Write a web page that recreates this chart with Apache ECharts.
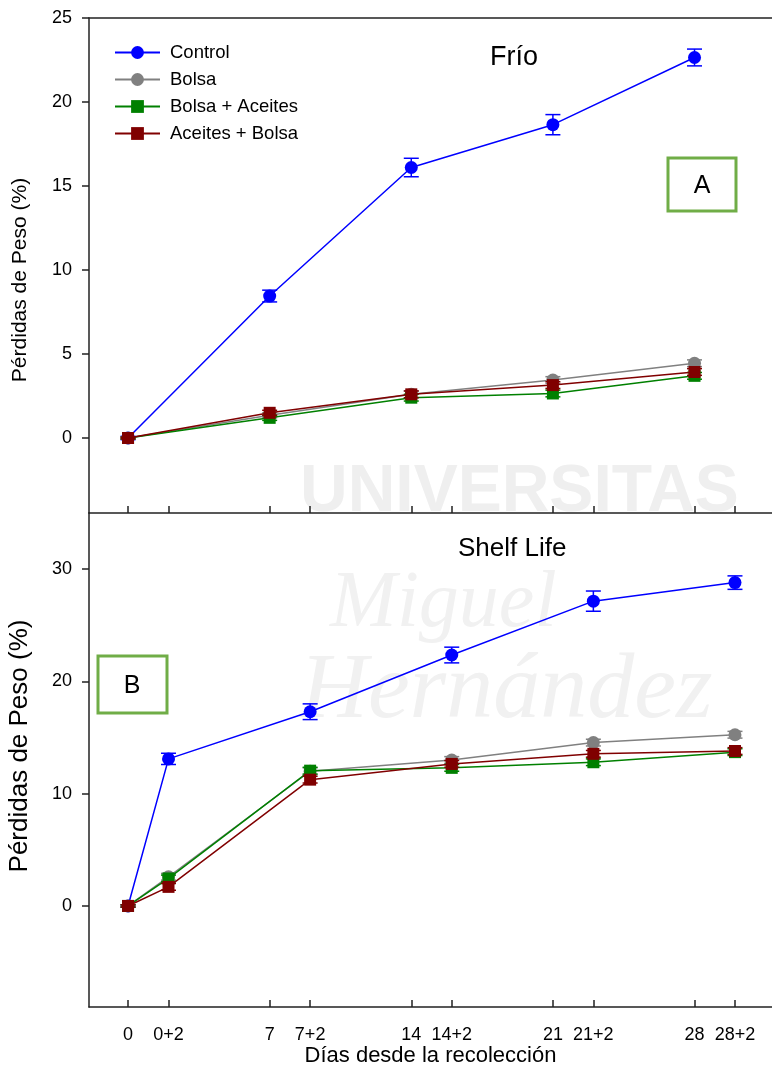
<!DOCTYPE html>
<html>
<head>
<meta charset="utf-8">
<script src="https://cdn.jsdelivr.net/npm/echarts@6/dist/echarts.min.js"></script>
<style>
  html, body { margin: 0; padding: 0; background: #fff; }
  #chart { width: 772px; height: 1068px; }
</style>
</head>
<body>
<div id="chart"></div>
<script>
// Días de muestreo (cámara frigorífica y vida útil a temperatura ambiente)
const tickDays   = [0, 2, 7, 9, 14, 16, 21, 23, 28, 30];
const tickLabels = ['0', '0+2', '7', '7+2', '14', '14+2', '21', '21+2', '28', '28+2'];

// Panel A: frío
const friaDays = [0, 7, 14, 21, 28];
const friaControl        = [0, 8.45, 16.1, 18.65, 22.65];
const friaControlErr     = [0.1, 0.35, 0.55, 0.6, 0.5];
const friaBolsa          = [0, 1.35, 2.6, 3.45, 4.45];
const friaBolsaErr       = [0.05, 0.15, 0.2, 0.2, 0.2];
const friaBolsaAceites   = [0, 1.2, 2.4, 2.65, 3.7];
const friaBolsaAceitesErr= [0.05, 0.15, 0.2, 0.2, 0.2];
const friaAceitesBolsa   = [0, 1.5, 2.6, 3.15, 3.93];
const friaAceitesBolsaErr= [0.05, 0.15, 0.2, 0.2, 0.2];

// Panel B: vida útil (shelf life)
const shelfDays = [0, 2, 9, 16, 23, 30];
const shelfControl        = [0, 13.1, 17.3, 22.35, 27.15, 28.8];
const shelfControlErr     = [0.1, 0.5, 0.7, 0.7, 0.9, 0.6];
const shelfBolsa          = [0, 2.6, 12.0, 13.0, 14.55, 15.25];
const shelfBolsaErr       = [0.1, 0.3, 0.3, 0.3, 0.3, 0.3];
const shelfBolsaAceites   = [0, 2.45, 12.05, 12.3, 12.8, 13.7];
const shelfBolsaAceitesErr= [0.1, 0.3, 0.3, 0.3, 0.3, 0.3];
const shelfAceitesBolsa   = [0, 1.7, 11.25, 12.65, 13.55, 13.8];
const shelfAceitesBolsaErr= [0.1, 0.3, 0.3, 0.3, 0.3, 0.3];

const friaTicks  = [0, 5, 10, 15, 20, 25];
const shelfTicks = [0, 10, 20, 30];

const names  = ['Control', 'Bolsa', 'Bolsa + Aceites', 'Aceites + Bolsa'];
const colors = ['#0000ff', '#808080', '#008000', '#800000'];
const symbols = ['circle', 'circle', 'rect', 'rect'];
const sizes   = [13, 13, 12, 12];

const FONT = 'Liberation Sans, Arial, sans-serif';
const AXIS_COLOR = '#222';

function lineSeries(i, days, vals, xIdx, yIdx) {
  return {
    type: 'line', name: names[i], xAxisIndex: xIdx, yAxisIndex: yIdx,
    data: days.map((d, k) => [d, vals[k]]),
    symbol: symbols[i], symbolSize: sizes[i],
    itemStyle: { color: colors[i] },
    lineStyle: { color: colors[i], width: 1.5 },
    z: 3 + i, animation: false, silent: true
  };
}

function errSeries(i, days, vals, errs, xIdx, yIdx) {
  const c = colors[i];
  return {
    type: 'custom', name: names[i], xAxisIndex: xIdx, yAxisIndex: yIdx,
    data: days.map((d, k) => [d, vals[k] - errs[k], vals[k] + errs[k]]),
    encode: { x: 0, y: [1, 2] },
    renderItem: (params, api) => {
      const lo = api.coord([api.value(0), api.value(1)]);
      const hi = api.coord([api.value(0), api.value(2)]);
      const w = 7.5;
      const st = { stroke: c, lineWidth: 1.5 };
      return { type: 'group', children: [
        { type: 'line', shape: { x1: lo[0], y1: lo[1], x2: hi[0], y2: hi[1] }, style: st },
        { type: 'line', shape: { x1: lo[0] - w, y1: lo[1], x2: lo[0] + w, y2: lo[1] }, style: st },
        { type: 'line', shape: { x1: hi[0] - w, y1: hi[1], x2: hi[0] + w, y2: hi[1] }, style: st }
      ]};
    },
    z: 3 + i, animation: false, silent: true
  };
}

const friaSets  = [[friaControl, friaControlErr], [friaBolsa, friaBolsaErr],
                   [friaBolsaAceites, friaBolsaAceitesErr], [friaAceitesBolsa, friaAceitesBolsaErr]];
const shelfSets = [[shelfControl, shelfControlErr], [shelfBolsa, shelfBolsaErr],
                   [shelfBolsaAceites, shelfBolsaAceitesErr], [shelfAceitesBolsa, shelfAceitesBolsaErr]];

const series = [];
friaSets.forEach((s, i) => series.push(lineSeries(i, friaDays, s[0], 0, 0)));
shelfSets.forEach((s, i) => series.push(lineSeries(i, shelfDays, s[0], 2, 1)));
friaSets.forEach((s, i) => series.push(errSeries(i, friaDays, s[0], s[1], 0, 0)));
shelfSets.forEach((s, i) => series.push(errSeries(i, shelfDays, s[0], s[1], 2, 1)));

const X_MIN = -1.93, X_MAX = 31.83;

const baseX = {
  type: 'value', min: X_MIN, max: X_MAX,
  axisLine: { show: true, onZero: false, lineStyle: { color: AXIS_COLOR, width: 1.5 } },
  axisTick: { show: true, inside: true, length: 7, customValues: tickDays,
              lineStyle: { color: AXIS_COLOR, width: 1.5 } },
  splitLine: { show: false }
};

const baseY = {
  type: 'value',
  axisLine: { show: true, onZero: false, lineStyle: { color: AXIS_COLOR, width: 1.5 } },
  axisTick: { show: true, inside: false, length: 7, lineStyle: { color: AXIS_COLOR, width: 1.5 } },
  splitLine: { show: false },
  axisLabel: { color: '#000', fontFamily: FONT, fontSize: 18, margin: 17 }
};

const option = {
  backgroundColor: '#fff',
  animation: false,
  grid: [
    { left: 89, top: 18, right: 0, height: 495 },
    { left: 89, top: 513, right: 0, height: 494 }
  ],
  xAxis: [
    Object.assign({}, baseX, { gridIndex: 0, position: 'bottom', axisLabel: { show: false } }),
    Object.assign({}, baseX, { gridIndex: 0, position: 'top', axisTick: { show: false }, axisLabel: { show: false } }),
    Object.assign({}, baseX, {
      gridIndex: 1, position: 'bottom',
      axisLabel: {
        show: true, customValues: tickDays, color: '#000', fontFamily: FONT, fontSize: 18, margin: 19,
        formatter: v => tickLabels[tickDays.indexOf(v)]
      },
      name: 'Días desde la recolección', nameLocation: 'middle', nameGap: 37,
      nameTextStyle: { color: '#000', fontFamily: FONT, fontSize: 22 }
    })
  ],
  yAxis: [
    Object.assign({}, baseY, {
      gridIndex: 0, min: -4.464, max: 25,
      axisTick: Object.assign({}, baseY.axisTick, { customValues: friaTicks }),
      axisLabel: Object.assign({}, baseY.axisLabel, { customValues: friaTicks })
    }),
    Object.assign({}, baseY, {
      gridIndex: 1, min: -9, max: 35,
      axisTick: Object.assign({}, baseY.axisTick, { customValues: shelfTicks }),
      axisLabel: Object.assign({}, baseY.axisLabel, { customValues: shelfTicks })
    })
  ],
  legend: {
    data: names, orient: 'vertical', left: 114, top: 43, padding: 0,
    itemWidth: 45, itemHeight: 16, itemGap: 8,
    textStyle: { color: '#000', fontFamily: FONT, fontSize: 18.5, lineHeight: 18, height: 18, padding: [0, 0, 0, 5] },
    selectedMode: false
  },
  graphic: [
    // marca de agua de fondo
    { type: 'text', z: -10, silent: true, left: 300, top: 460,
      style: { text: 'UNIVERSITAS', fill: '#efefef', font: 'bold 66px ' + FONT } },
    { type: 'text', z: -10, silent: true, left: 330, top: 565,
      style: { text: 'Miguel', fill: '#f1f1f1', font: 'italic 80px "Liberation Serif", serif' } },
    { type: 'text', z: -10, silent: true, left: 300, top: 645,
      style: { text: 'Hernández', fill: '#f1f1f1', font: 'italic 94px "Liberation Serif", serif' } },
    // títulos de los paneles
    { type: 'text', left: 490, top: 44,
      style: { text: 'Frío', fill: '#000', font: '27px ' + FONT } },
    { type: 'text', left: 458, top: 536,
      style: { text: 'Shelf Life', fill: '#000', font: '26px ' + FONT } },
    // recuadros A y B
    { type: 'rect', shape: { x: 668, y: 158, width: 68, height: 53 },
      style: { fill: '#fff', stroke: '#70ad47', lineWidth: 3 } },
    { type: 'text', x: 702, y: 186,
      style: { text: 'A', fill: '#000', font: '25px ' + FONT, textAlign: 'center', textVerticalAlign: 'middle' } },
    { type: 'rect', shape: { x: 98, y: 656, width: 69, height: 57 },
      style: { fill: '#fff', stroke: '#70ad47', lineWidth: 3 } },
    { type: 'text', x: 132, y: 686,
      style: { text: 'B', fill: '#000', font: '25px ' + FONT, textAlign: 'center', textVerticalAlign: 'middle' } },
    // títulos de eje Y
    { type: 'text', x: 20, y: 280, rotation: Math.PI / 2,
      style: { text: 'Pérdidas de Peso (%)', fill: '#000', font: '21px ' + FONT, textAlign: 'center', textVerticalAlign: 'middle' } },
    { type: 'text', x: 20, y: 746, rotation: Math.PI / 2,
      style: { text: 'Pérdidas de Peso (%)', fill: '#000', font: '26px ' + FONT, textAlign: 'center', textVerticalAlign: 'middle' } }
  ],
  series: series
};

const chart = echarts.init(document.getElementById('chart'), null, { renderer: 'canvas' });
chart.setOption(option);
</script>
</body>
</html>
